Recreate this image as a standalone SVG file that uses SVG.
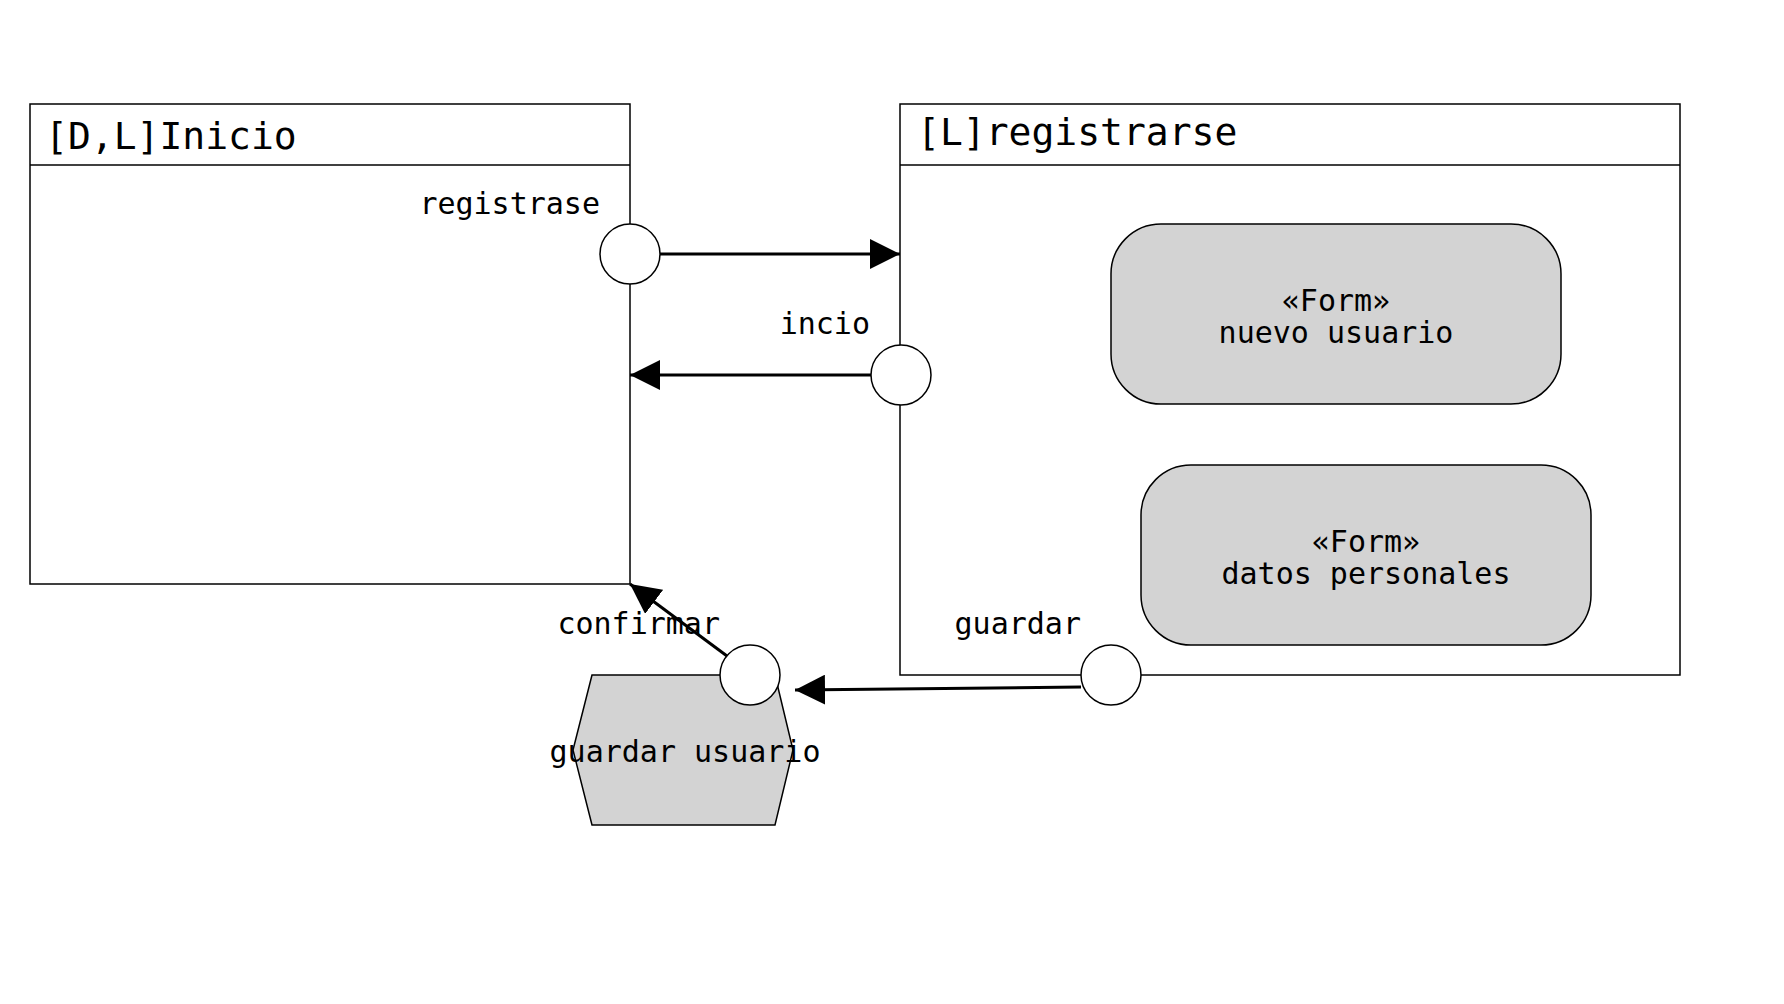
<svg xmlns="http://www.w3.org/2000/svg" width="1784" height="1004" viewBox="0 0 1784 1004">
<style>
.frame{fill:#fff;stroke:#000;stroke-width:1.5}
.form{fill:#d3d3d3;stroke:#000;stroke-width:1.5}
.port{fill:#fff;stroke:#000;stroke-width:1.5}
.conn{fill:none;stroke:#000;stroke-width:3}
.title{font-family:"DejaVu Sans Mono","Liberation Mono",monospace;font-size:38px;fill:#000}
.lbl{font-family:"DejaVu Sans Mono","Liberation Mono",monospace;font-size:30px;fill:#000}
</style>
<defs>
<marker id="ah" markerUnits="userSpaceOnUse" markerWidth="30" markerHeight="30" refX="30" refY="15" orient="auto" viewBox="0 0 30 30">
<path d="M0,0 L30,15 L0,30 Z" fill="#000"/>
</marker>
</defs>
<rect width="1784" height="1004" fill="#fff"/>
<g id="inicio">
<rect class="frame" x="30" y="104" width="600" height="480"/>
<line class="frame" x1="30" y1="165" x2="630" y2="165"/>
<text class="title" x="45" y="149">[D,L]Inicio</text>
</g>
<g id="registrarse">
<rect class="frame" x="900" y="104" width="780" height="571"/>
<line class="frame" x1="900" y1="165" x2="1680" y2="165"/>
<text class="title" x="917" y="145">[L]registrarse</text>
</g>
<g id="nuevo-usuario">
<rect class="form" x="1111" y="224" width="450" height="180" rx="50" ry="50"/>
<text class="lbl" x="1336" y="311" text-anchor="middle">«Form»</text>
<text class="lbl" x="1336" y="343" text-anchor="middle">nuevo usuario</text>
</g>
<g id="datos-personales">
<rect class="form" x="1141" y="465" width="450" height="180" rx="50" ry="50"/>
<text class="lbl" x="1366" y="552" text-anchor="middle">«Form»</text>
<text class="lbl" x="1366" y="584" text-anchor="middle">datos personales</text>
</g>
<g id="guardar-usuario">
<polygon class="form" points="592,675 775,675 793,750 775,825 592,825 573,750"/>
<text class="lbl" x="685" y="762" text-anchor="middle">guardar usuario</text>
</g>
<g id="connectors">
<line class="conn" x1="660" y1="254" x2="900" y2="254" marker-end="url(#ah)"/>
<line class="conn" x1="871" y1="375" x2="630" y2="375" marker-end="url(#ah)"/>
<line class="conn" x1="1081" y1="687" x2="795" y2="690" marker-end="url(#ah)"/>
</g>
<g id="port-registrase">
<circle class="port" cx="630" cy="254" r="30"/>
<text class="lbl" x="600" y="214" text-anchor="end">registrase</text>
</g>
<g id="port-incio">
<circle class="port" cx="901" cy="375" r="30"/>
<text class="lbl" x="870" y="334" text-anchor="end">incio</text>
</g>
<g id="port-guardar">
<circle class="port" cx="1111" cy="675" r="30"/>
<text class="lbl" x="1081" y="634" text-anchor="end">guardar</text>
</g>
<g id="port-confirmar">
<text class="lbl" x="720" y="634" text-anchor="end">confirmar</text>
<line class="conn" x1="727" y1="656" x2="630" y2="584" marker-end="url(#ah)"/>
<circle class="port" cx="750" cy="675" r="30"/>
</g>
</svg>
